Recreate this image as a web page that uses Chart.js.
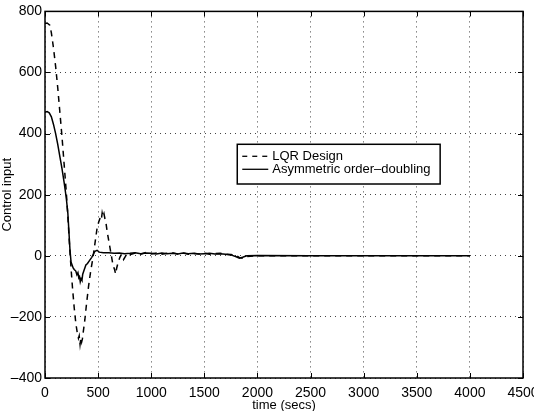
<!DOCTYPE html>
<html>
<head>
<meta charset="utf-8">
<script src="https://cdn.jsdelivr.net/npm/chart.js@4.4.1/dist/chart.umd.min.js"></script>
<style>
  html, body { margin: 0; padding: 0; background: #fff; }
  #wrap { width: 534px; height: 411px; position: relative; }
</style>
</head>
<body>
<div id="wrap"><canvas id="chart"></canvas></div>
<script>
// ─── Data ─────────────────────────────────────────────────────────────────────
const xTicks = [0, 500, 1000, 1500, 2000, 2500, 3000, 3500, 4000, 4500];
const yTicks = [-400, -200, 0, 200, 400, 600, 800];

const lqrTime = [0, 20, 45, 60, 80, 100, 120, 140, 160, 180, 200, 215, 230, 245, 260, 275, 290, 305,
  315, 322, 330, 338, 345, 352, 360, 375, 390, 410, 430, 450, 470, 490, 505, 520, 530, 538, 545,
  555, 565, 575, 585, 600, 620, 640, 655, 665, 675, 690, 705, 720, 740, 760, 780, 800, 850, 900,
  950, 1000, 1050, 1100, 1150, 1200, 1250, 1300, 1350, 1400, 1450, 1500, 1550, 1600, 1650, 1700,
  1750, 1800, 1830, 1860, 1900, 2000, 2500, 3000, 3500, 4000];
const lqrValues = [760, 762, 755, 730, 680, 620, 550, 470, 390, 300, 210, 130, 40, -40, -110, -170,
  -220, -255, -270, -262, -290, -268, -282, -272, -250, -210, -160, -100, -50, -10, 40, 90, 110, 125,
  118, 140, 128, 138, 120, 105, 80, 50, 10, -30, -45, -60, -40, -20, -5, 5, -12, 0, 10, 4, 9, 5, 11,
  6, 9, 5, 8, 10, 6, 9, 5, 8, 6, 9, 5, 7, 8, 5, 4, 2, -6, -8, -2, 0, 0, 0, 0, 0];

const aodTime = [0, 20, 40, 60, 80, 100, 120, 140, 160, 180, 200, 215, 225, 235, 245, 255, 265, 275,
  290, 300, 310, 318, 325, 332, 340, 348, 355, 370, 385, 400, 420, 440, 455, 470, 490, 510, 550,
  600, 650, 700, 750, 800, 850, 900, 950, 1000, 1050, 1100, 1150, 1200, 1250, 1300, 1350, 1400,
  1450, 1500, 1550, 1600, 1650, 1700, 1750, 1800, 1830, 1860, 1900, 2000, 2500, 3000, 3500, 4000];
const aodValues = [470, 472, 468, 455, 430, 400, 365, 325, 285, 240, 190, 140, 80, 20, -20, -30, -40,
  -45, -50, -62, -55, -72, -68, -85, -75, -80, -60, -45, -30, -25, -15, -5, 5, 15, 18, 12, 10, 10, 8,
  9, 7, 8, 10, 7, 9, 8, 6, 9, 7, 8, 6, 9, 7, 8, 6, 7, 8, 6, 7, 5, 3, -3, -8, -5, 0, 1, 0, 0, 0, 0];

const toPoints = (xs, ys) => xs.map((x, i) => ({ x, y: ys[i] }));
const fmt = v => String(v).replace('-', '\u2013');

const fontFamily = '"Liberation Sans", Arial, sans-serif';
const tickFont = { family: fontFamily, size: 14 };
const titleFont = { family: fontFamily, size: 13 };

// ─── Legend box drawn inside the plot (MATLAB style) ──────────────────────────
const boxLegend = {
  id: 'boxLegend',
  afterDraw(chart) {
    const { ctx, scales: { x, y } } = chart;
    const left = x.getPixelForValue(1810), right = x.getPixelForValue(3720);
    const top = y.getPixelForValue(365), bottom = y.getPixelForValue(235);
    ctx.save();
    ctx.fillStyle = '#fff';
    ctx.fillRect(left, top, right - left, bottom - top);
    ctx.strokeStyle = '#000';
    ctx.lineWidth = 1.5;
    ctx.strokeRect(left, top, right - left, bottom - top);
    ctx.font = '13px ' + fontFamily;
    ctx.fillStyle = '#000';
    ctx.textBaseline = 'middle';
    const rows = [
      { label: 'LQR Design', dash: [5, 5] },
      { label: 'Asymmetric order\u2013doubling', dash: [] }
    ];
    rows.forEach((r, i) => {
      const cy = top + 12 + i * 13;
      ctx.setLineDash(r.dash);
      ctx.lineWidth = 1.3;
      ctx.beginPath();
      ctx.moveTo(left + 5, cy);
      ctx.lineTo(left + 31, cy);
      ctx.stroke();
      ctx.setLineDash([]);
      ctx.fillText(r.label, left + 35, cy);
    });
    ctx.restore();
  }
};

// ─── Frame + inward tick marks ────────────────────────────────────────────────
const frame = {
  id: 'frame',
  afterDatasetsDraw(chart) {
    const { ctx, chartArea: a, scales: { x, y } } = chart;
    ctx.save();
    ctx.strokeStyle = '#000';
    ctx.lineWidth = 1.5;
    ctx.strokeRect(a.left, a.top, a.right - a.left, a.bottom - a.top);
    ctx.lineWidth = 1;
    ctx.beginPath();
    xTicks.forEach(v => {
      const px = Math.round(x.getPixelForValue(v)) + 0.5;
      ctx.moveTo(px, a.bottom); ctx.lineTo(px, a.bottom - 5);
      ctx.moveTo(px, a.top); ctx.lineTo(px, a.top + 5);
    });
    yTicks.forEach(v => {
      const py = Math.round(y.getPixelForValue(v)) + 0.5;
      ctx.moveTo(a.left, py); ctx.lineTo(a.left + 5, py);
      ctx.moveTo(a.right, py); ctx.lineTo(a.right - 5, py);
    });
    ctx.stroke();
    ctx.restore();
  }
};

new Chart(document.getElementById('chart'), {
  type: 'line',
  data: {
    datasets: [
      {
        label: 'LQR Design',
        data: toPoints(lqrTime, lqrValues),
        borderColor: '#000', borderWidth: 1.5, borderDash: [6, 5],
        pointRadius: 0, tension: 0, fill: false
      },
      {
        label: 'Asymmetric order-doubling',
        data: toPoints(aodTime, aodValues),
        borderColor: '#000', borderWidth: 1.5,
        pointRadius: 0, tension: 0, fill: false
      }
    ]
  },
  options: {
    responsive: true, maintainAspectRatio: false, animation: false,
    layout: { padding: { top: 7, right: 11, left: 0, bottom: 0 } },
    plugins: { legend: { display: false }, tooltip: { enabled: false } },
    scales: {
      x: {
        type: 'linear', min: 0, max: 4500,
        afterBuildTicks: s => { s.ticks = xTicks.map(v => ({ value: v })); },
        afterFit: s => { s.height = 33; s.paddingRight = 0; s.paddingLeft = 0; },
        ticks: { color: '#000', font: tickFont, padding: 7, maxRotation: 0, callback: fmt },
        grid: { color: '#444', lineWidth: 1, drawTicks: false },
        border: { display: false, dash: [1, 4] },
        title: { display: true, text: 'time (secs)', color: '#000', font: titleFont, padding: { top: 0, bottom: -2 } }
      },
      y: {
        min: -400, max: 800,
        afterBuildTicks: s => { s.ticks = yTicks.map(v => ({ value: v })); },
        afterFit: s => { s.width = 45; },
        ticks: { color: '#000', font: tickFont, padding: 3, callback: fmt },
        grid: { color: '#444', lineWidth: 1, drawTicks: false },
        border: { display: false, dash: [1, 4] },
        title: { display: true, text: 'Control input', color: '#000', font: titleFont, padding: { top: 0, bottom: 0 } }
      }
    }
  },
  plugins: [frame, boxLegend]
});
</script>
</body>
</html>
